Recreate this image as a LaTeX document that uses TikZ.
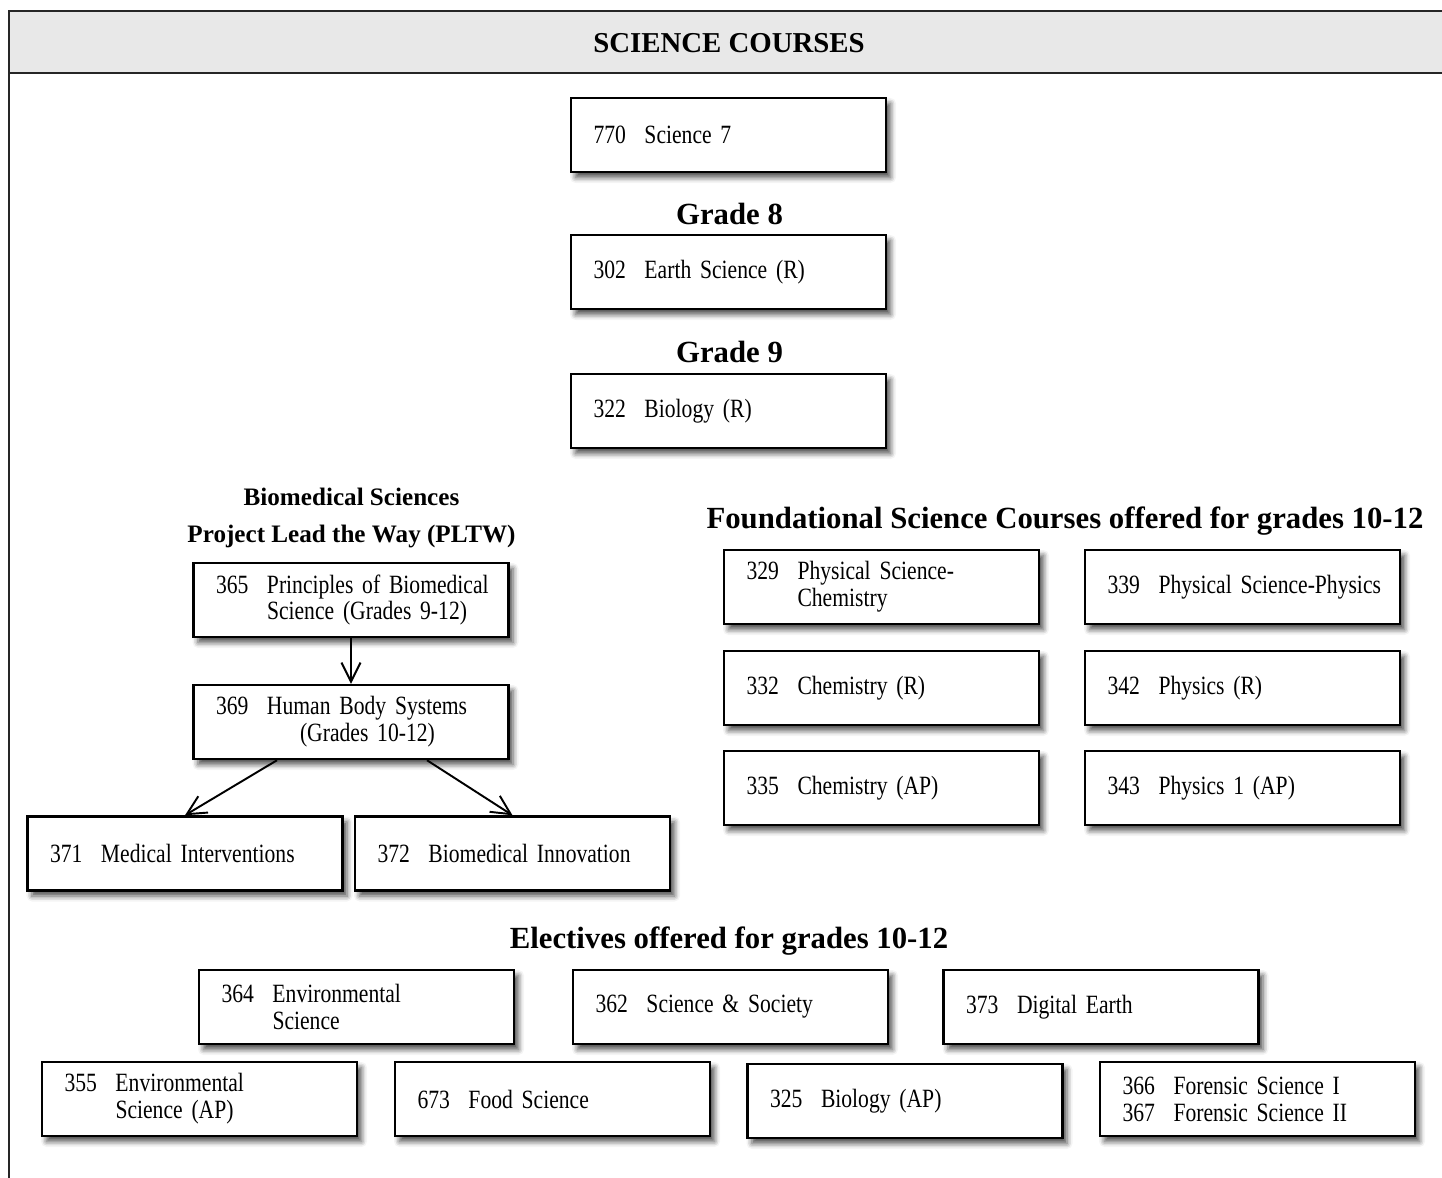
\documentclass[tikz,border=0pt]{standalone}
\usepackage{fontspec}
\setmainfont{Liberation Serif}
\newfontfamily\boxfont{Liberation Serif}[FakeStretch=0.82]
\usetikzlibrary{shadows.blur,arrows.meta}

\hyphenpenalty=10000
\exhyphenpenalty=10000
\newcommand{\cnum}[1]{\hspace*{0.1cm}\makebox[1.02cm][l]{#1}}
\newcommand{\ctab}{\hspace*{1.12cm}}

\begin{document}
\begin{tikzpicture}[course_box/.style={rectangle,draw,line width=1.4pt,fill=white,minimum height=1.48cm,text width=5.6cm,inner xsep=0.35cm,inner ysep=0pt,align=left,font={\boxfont\fontsize{15}{15.3}\selectfont\spaceskip=0.2em plus 0.05em minus 0.05em},blur shadow={shadow xshift=0.09cm,shadow yshift=-0.11cm,shadow blur radius=0.11cm,shadow opacity=70}},
	title_node/.style={font=\fontsize{17.5}{20.4}\selectfont\bfseries,align=center,inner sep=0pt},
	link/.style={line width=1.1pt,-{Straight Barb[length=0.38cm,width=0.38cm,line width=1.1pt]}}]
				\clip (0,0) rectangle (28.84,-23.56);

				% frame and heading band
				\fill[black!9] (0.18,-0.22) rectangle (29,-1.46);
				\draw[line width=1.7pt,black!85] (0.18,-24) -- (0.18,-0.22) -- (29,-0.22);
				\draw[line width=1.7pt,black!85] (0.18,-1.46) -- (29,-1.46);
				\node[title_node,font=\fontsize{16.4}{18}\selectfont\bfseries] (head) at (14.58,-0.86){SCIENCE COURSES};

				% grades 7 to 9
				\node[course_box] (770) at (14.57,-2.70){\cnum{770}Science 7};
				\node[title_node] (g8) at (14.59,-4.28){Grade 8};
				\node[course_box] (302) at (14.57,-5.44){\cnum{302}Earth Science (R)};
				\node[title_node] (g9) at (14.59,-7.04){Grade 9};
				\node[course_box] (322) at (14.57,-8.22){\cnum{322}Biology (R)};

				% biomedical sciences (PLTW)
				\node[title_node,font=\fontsize{14.3}{20.6}\selectfont\bfseries] (pltw) at (7.03,-10.36){Biomedical Sciences\\Project Lead the Way (PLTW)};
				\node[course_box] (365) at (7.02,-12.00){\cnum{365}Principles of Biomedical\\\ctab Science (Grades 9-12)};
				\node[course_box] (369) at (7.02,-14.44){\cnum{369}Human Body Systems\\\ctab\hspace*{0.66cm}(Grades 10-12)};
				\node[course_box] (371) at (3.70,-17.07){\cnum{371}Medical Interventions};
				\node[course_box] (372) at (10.25,-17.07){\cnum{372}Biomedical Innovation};

				\path[draw,link]
				(365) -- (369)
				;
				\draw[link] ([xshift=-1.48cm]369.south) -- (371.north);
				\draw[link] ([xshift=1.52cm]369.south) -- (372.north);

				% foundational courses
				\node[title_node] (found) at (21.30,-10.42){Foundational Science Courses offered for grades 10-12};
				\node[course_box] (329) at (17.63,-11.74){\cnum{329}Physical Science-\\\ctab Chemistry};
				\node[course_box] (339) at (24.85,-11.74){\cnum{339}Physical Science-Physics};
				\node[course_box] (332) at (17.63,-13.76){\cnum{332}Chemistry (R)};
				\node[course_box] (342) at (24.85,-13.76){\cnum{342}Physics (R)};
				\node[course_box] (335) at (17.63,-15.76){\cnum{335}Chemistry (AP)};
				\node[course_box] (343) at (24.85,-15.76){\cnum{343}Physics 1 (AP)};

				% electives
				\node[title_node] (elect) at (14.58,-18.82){Electives offered for grades 10-12};
				\node[course_box] (364) at (7.13,-20.14){\cnum{364}Environmental\\\ctab Science};
				\node[course_box] (362) at (14.61,-20.14){\cnum{362}Science \& Society};
				\node[course_box] (373) at (22.02,-20.14){\cnum{373}Digital Earth};
				\node[course_box] (355) at (3.99,-21.98){\cnum{355}Environmental\\\ctab Science (AP)};
				\node[course_box] (673) at (11.05,-21.98){\cnum{673}Food Science};
				\node[course_box] (325) at (18.10,-22.02){\cnum{325}Biology (AP)};
				\node[course_box] (366) at (25.15,-21.98){\cnum{366}Forensic Science I\\\cnum{367}Forensic Science II};
\end{tikzpicture}
\end{document}
